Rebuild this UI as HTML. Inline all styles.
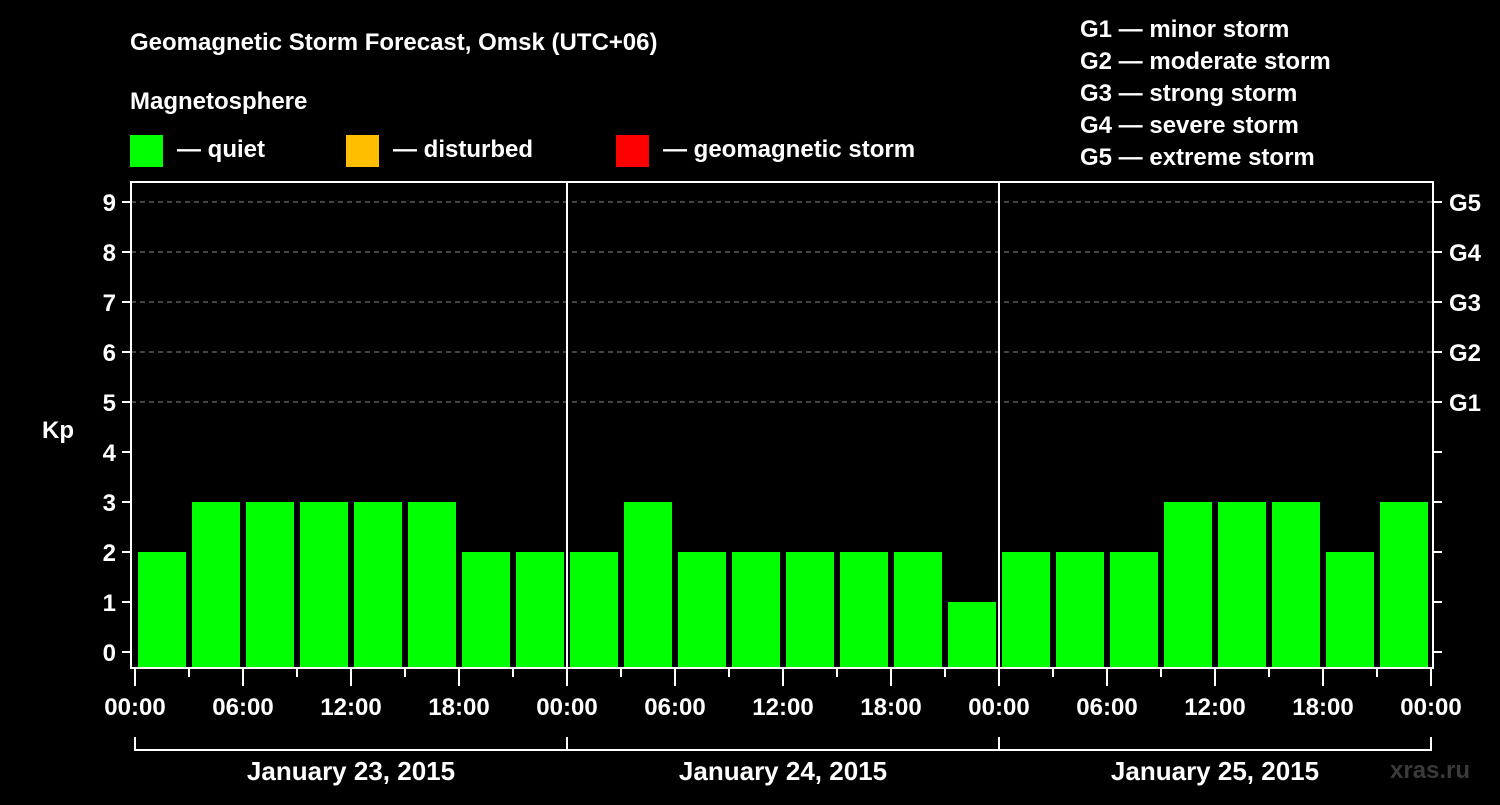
<!DOCTYPE html>
<html><head><meta charset="utf-8"><style>
body{margin:0;background:#000;width:1500px;height:800px;overflow:hidden}
svg text{font-family:"Liberation Sans",sans-serif;font-weight:bold;fill:#fff}
</style></head><body>
<svg id="c" width="1500" height="800">
<text x="130" y="50" font-size="24">Geomagnetic Storm Forecast, Omsk (UTC+06)</text>
<text x="130" y="109" font-size="24">Magnetosphere</text>
<g><rect x="130" y="135" width="33" height="32" fill="#00ff00"/><text x="177" y="157" font-size="24">— quiet</text></g>
<g><rect x="346" y="135" width="33" height="32" fill="#ffbf00"/><text x="393" y="157" font-size="24">— disturbed</text></g>
<g><rect x="616" y="135" width="33" height="32" fill="#ff0000"/><text x="663" y="157" font-size="24">— geomagnetic storm</text></g>
<g font-size="24">
<text x="1080" y="37">G1 — minor storm</text><text x="1080" y="69">G2 — moderate storm</text><text x="1080" y="101">G3 — strong storm</text><text x="1080" y="133">G4 — severe storm</text><text x="1080" y="165">G5 — extreme storm</text></g>
<text x="42" y="438" font-size="24">Kp</text>
<text x="1390" y="778" font-size="24" fill="#333" style="fill:#3a3a3a">xras.ru</text>
<g id="g"></g>
</svg>
<script>
const days=["January 23, 2015","January 24, 2015","January 25, 2015"];
const kpValues=[2,3,3,3,3,3,2,2, 2,3,2,2,2,2,2,1, 2,2,2,3,3,3,2,3];
const yTicks=[0,1,2,3,4,5,6,7,8,9];
const gLabels=["G1","G2","G3","G4","G5"];
const hourLabels=["00:00","06:00","12:00","18:00"];
const NS="http://www.w3.org/2000/svg";
const g=document.getElementById('g');
const X0=135,DAYW=432,Y0=652,UNIT=50;
const xs=h=>X0+h*DAYW/24;
const ys=v=>Y0-v*UNIT;
function mk(t,a,txt){const e=document.createElementNS(NS,t);for(const k in a)e.setAttribute(k,a[k]);if(txt!==undefined)e.textContent=txt;g.appendChild(e);return e;}
// bars
kpValues.forEach((v,i)=>{
 const x=xs(i*3)+3;
 const r=mk('rect',{x:x,y:ys(v),width:48,height:668-ys(v),fill:v>=5?'#ff0000':v>=4?'#ffbf00':'#00ff00'});
 
 
});
// gridlines
[5,6,7,8,9].forEach(v=>{
 const l=mk('line',{x1:131,x2:1433,y1:ys(v),y2:ys(v),stroke:'#888','stroke-dasharray':'5,4','stroke-width':1});
 
 
});
// y ticks
yTicks.forEach(v=>{
 mk('line',{x1:122,x2:131,y1:ys(v),y2:ys(v),stroke:'#fff','stroke-width':2});
 mk('line',{x1:1433,x2:1442,y1:ys(v),y2:ys(v),stroke:'#fff','stroke-width':2});
 const t=mk('text',{x:116,y:ys(v)+9,'font-size':24,'text-anchor':'end'},String(v));
 
 
});
gLabels.forEach((s,i)=>{
 const t=mk('text',{x:1449,y:ys(5+i)+9,'font-size':24},s);
 
 
});
// frame
const f=mk('rect',{x:131,y:182,width:1302,height:486,fill:'none',stroke:'#fff','stroke-width':2});


// day separators, x ticks
for(let d=0;d<=days.length;d++){
 if(d>0&&d<days.length){const s=mk('line',{x1:xs(d*24),x2:xs(d*24),y1:182,y2:668,stroke:'#fff','stroke-width':2});
  
  }
}
for(let h=0;h<=72;h+=3){
 const major=h%6===0;
 mk('line',{x1:xs(h),x2:xs(h),y1:668,y2:major?686:677,stroke:'#fff','stroke-width':2});
 if(h%6===0&&h%24%6===0&&[0,6,12,18].includes(h%24)){
  const lbl=h===72?"00:00":hourLabels[(h%24)/6];
  const t=mk('text',{x:xs(h),y:715,'font-size':24,'text-anchor':'middle'},lbl);
  
  
 }
}
// day brackets
mk('path',{d:`M${xs(0)} 737V750H${xs(72)}V737`,fill:'none',stroke:'#fff','stroke-width':2});
days.forEach((s,d)=>{
 mk('line',{x1:xs(d*24),x2:xs(d*24),y1:737,y2:750,stroke:'#fff','stroke-width':2});
 const t=mk('text',{x:xs(d*24+12),y:780,'font-size':26,'text-anchor':'middle'},s);
 
 
});
</script>
</body></html>
